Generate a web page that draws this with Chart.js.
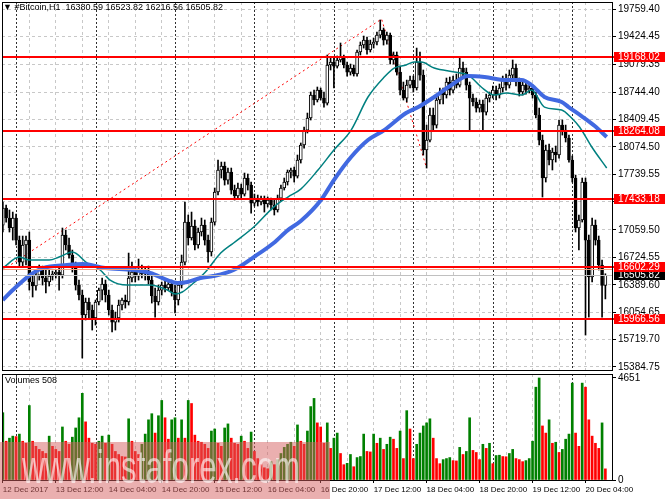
<!DOCTYPE html>
<html><head><meta charset="utf-8">
<script src="https://cdn.jsdelivr.net/npm/chart.js@4.4.0/dist/chart.umd.min.js"></script>
<style>
html,body{margin:0;padding:0;background:#fff;width:665px;height:499px;overflow:hidden;}
#wrap{position:relative;width:665px;height:499px;}
#pc{position:absolute;left:0;top:0;}
#vc{position:absolute;left:0;top:372px;}
.txt{position:absolute;font-family:"Liberation Sans",Arial,sans-serif;font-size:9px;color:#000;white-space:pre;line-height:11px;}
#wm{position:absolute;left:0;top:442px;width:330px;height:57px;background:rgba(214,96,96,0.5);overflow:hidden;}
#wmt{position:absolute;left:22px;top:2px;font-family:"Liberation Sans",Arial,sans-serif;font-size:46px;line-height:46px;color:rgba(255,255,255,0.6);white-space:pre;transform:scaleX(0.68);transform-origin:0 0;}
</style></head>
<body><div id="wrap">
<canvas id="pc" width="665" height="372"></canvas>
<canvas id="vc" width="665" height="127"></canvas>
<div class="txt" style="left:3px;top:2px;">▼ #Bitcoin,H1  16380.59 16523.82 16216.56 16505.82</div>
<div class="txt" style="left:5px;top:375px;">Volumes 508</div>
<div id="wm"><div id="wmt">www.instaforex.com</div></div>
</div>
<script>
// ---- data (hourly bars, 12 Dec 2017 20:00 .. 20 Dec 2017 10:00) ----
const openP = [
17119,17327,17205,17083,17205,16936,16667,16875,16936,16423,
16374,16508,16570,16472,16423,16496,16521,16545,16508,16997,
16875,16753,16594,16386,16264,16020,16179,16081,15983,16179,
16325,16399,16264,16081,15934,15983,16142,16203,16179,16472,
16545,16496,16570,16521,16557,16447,16252,16179,16325,16386,
16350,16399,16301,16203,16386,16667,17156,16961,17107,16875,
17034,17119,16936,16790,17156,17523,17792,17840,17669,17767,
17547,17474,17572,17498,17694,17608,17388,17449,17401,17437,
17376,17425,17364,17303,17449,17572,17645,17767,17792,17718,
17914,18097,18280,18427,18708,18647,18769,18671,18610,19075,
19111,19062,19136,19172,19075,18989,19038,18965,19234,19319,
19380,19258,19331,19356,19441,19502,19380,19441,19136,19197,
18989,18769,18671,18830,18891,18794,19111,18952,18036,18158,
18464,18341,18647,18745,18708,18867,18769,18891,18830,19038,
18989,18830,18671,18623,18549,18598,18500,18671,18708,18769,
18708,18794,18891,18830,18952,19038,18867,18745,18830,18769,
18794,18708,18464,18158,17694,18036,17914,18012,17975,18341,
18280,18183,17914,17694,17083,17181,17645,16936,16484,17119,
16936,16631,16380.59];
const highP = [
17401,17364,17303,17278,17254,16985,16985,16985,17034,16508,
16570,16631,16618,16570,16570,16557,16570,16594,17083,17058,
16961,16814,16667,16447,16325,16227,16227,16142,16203,16350,
16472,16447,16325,16142,16056,16203,16227,16264,16777,16667,
16594,16704,16631,16594,16618,16496,16350,16386,16423,16435,
16447,16447,16386,16423,16753,17401,17242,17278,17181,17083,
17205,17181,16997,17205,17572,17914,17889,17889,17816,17816,
17608,17633,17620,17755,17743,17645,17498,17486,17474,17474,
17462,17449,17425,17486,17608,17694,17792,17816,17828,17975,
18122,18317,18488,18745,18769,18806,18794,18745,19197,19160,
19160,19185,19344,19197,19111,19087,19075,19258,19356,19429,
19417,19380,19405,19478,19625,19527,19478,19466,19234,19234,
19062,18867,18891,18940,18940,19282,19234,19014,18341,18549,
18549,18696,18794,18794,18916,18928,18940,18965,19160,19111,
19038,18867,18720,18671,18647,18647,18720,18745,18818,18818,
18843,18940,18965,19014,19136,19087,18916,18867,18867,18843,
18830,18745,18549,18219,18097,18109,18060,18085,18403,18403,
18341,18219,17963,17730,17242,17694,17694,16997,17205,17181,
16985,16692,16523.82];
const lowP = [
17034,17156,17034,16936,16875,16618,16618,16631,16325,16240,
16325,16447,16386,16289,16374,16447,16472,16325,16472,16814,
16716,16545,16325,16203,15494,15959,15983,15836,15897,16142,
16203,16179,16020,15812,15836,15934,16081,16105,16142,16423,
16423,16447,16472,16447,16399,16166,15995,16142,16264,16301,
16325,16252,16044,16142,16350,16631,16875,16936,16814,16838,
16985,16875,16667,16741,17119,17486,17694,17608,17620,17498,
17425,17437,17449,17474,17547,17266,17352,17352,17364,17278,
17339,17303,17242,17278,17413,17547,17608,17694,17645,17694,
17877,18060,18244,18403,18586,18623,18647,18561,18586,19014,
18794,19038,19111,19038,18940,18952,18940,18940,19197,19282,
19209,19234,19282,19319,19405,19319,19331,19087,19087,18952,
18708,18647,18623,18794,18745,18769,18891,17975,17816,18134,
18280,18305,18598,18598,18671,18708,18733,18794,18806,18940,
18769,18280,18574,18500,18500,18280,18464,18623,18671,18647,
18671,18745,18769,18794,18916,18818,18696,18708,18720,18733,
18671,18427,18097,17462,17645,17853,17792,17889,17938,18219,
18134,17889,17645,17034,16814,17156,15775,15995,16423,16875,
16570,15995,16216.56];
const closeP = [
17327,17205,17083,17205,16936,16667,16875,16936,16423,16374,
16508,16570,16472,16423,16496,16521,16545,16508,16997,16875,
16753,16594,16386,16264,16020,16179,16081,15983,16179,16325,
16399,16264,16081,15934,15983,16142,16203,16179,16472,16545,
16496,16570,16521,16557,16447,16252,16179,16325,16386,16350,
16399,16301,16203,16386,16667,17156,16961,17107,16875,17034,
17119,16936,16790,17156,17523,17792,17840,17669,17767,17547,
17474,17572,17498,17694,17608,17388,17449,17401,17437,17376,
17425,17364,17303,17449,17572,17645,17767,17792,17718,17914,
18097,18280,18427,18708,18647,18769,18671,18610,19075,19111,
19062,19136,19172,19075,18989,19038,18965,19234,19319,19380,
19258,19331,19356,19441,19502,19380,19441,19136,19197,18989,
18769,18671,18830,18891,18794,19111,18952,18036,18158,18464,
18341,18647,18745,18708,18867,18769,18891,18830,19038,18989,
18830,18671,18623,18549,18598,18500,18671,18708,18769,18708,
18794,18891,18830,18952,19038,18867,18745,18830,18769,18794,
18708,18464,18158,17694,18036,17914,18012,17975,18341,18280,
18183,17914,17694,17083,17181,17645,16936,16484,17119,16936,
16631,16380.59,16505.82];
const volumes = [
3069,1767,1907,2000,1980,2093,1767,1674,3395,1767,
1535,1395,1302,1209,2000,1535,1395,1302,2418,1767,
1628,1953,2372,2837,3953,2651,1907,1674,1628,1767,
2000,1674,2046,1628,1302,1163,1070,1050,2790,1767,
1302,1163,1628,2093,2744,3023,2139,2930,3627,2837,
1860,2744,2837,1907,2744,1907,3627,3488,2046,1767,
1721,1628,1442,2232,2325,1674,1535,2372,2558,1907,
1674,1628,2000,1767,1442,2186,1302,977,698,558,
512,837,698,930,1209,1488,1628,1721,1535,2511,
1767,1628,2232,3348,3720,2604,2418,1674,2604,1442,
1907,2139,1209,698,760,1163,605,1023,1070,2093,
1302,1280,2093,1674,1907,1395,1628,1953,1860,1442,
2232,977,3162,2325,977,1628,2139,2465,2604,2790,
1907,977,744,930,977,1023,884,870,1488,1163,
1302,2837,1349,1256,930,1628,1442,1674,744,1116,
1130,1070,1060,1209,1395,977,930,837,884,977,
1767,4232,4651,2465,2139,2744,1674,1721,1256,1395,
1860,2093,4418,2139,1535,4418,4232,2744,2000,1674,
1442,2604,508];
// moving averages (bar index, price)
const maFastIdx = [0,5,8,14,17,21,25.5,29.4,32.4,37.6,44.5,49.7,52.1,54.2,57.6,61.2,65.8,69.7,75.8,81.8,86.1,90,95.2,100,105.2,110.3,115.2,118.2,121.8,124.2,126.4,130.3,136.4,140.6,144.5,148.5,152.1,156.7,159.7,163.6,168.8,171.8,174.2,177.9,182.4];
const maFastVal = [16594,16728,16692,16692,16728,16790,16655,16570,16447,16386,16386,16325,16276,16301,16411,16545,16777,16900,17095,17339,17462,17559,17792,18036,18280,18684,18928,19038,19075,19111,19111,19038,18989,18952,18806,18708,18733,18708,18769,18561,18525,18427,18317,18073,17816];
const maSlowIdx = [0,3,8.2,12.1,19.4,24.2,30.9,39.4,44.5,49.7,52.7,55.8,59.7,63.6,69.7,75.8,81.8,86.1,90,96.1,100,105.2,110.3,115.2,121.8,125.5,130.3,135.5,140.6,145.5,152.1,156.7,159.7,163.6,168.8,170.9,174.8,178.8,182.4];
const maSlowVal = [16203,16325,16508,16594,16631,16643,16594,16570,16533,16447,16411,16423,16472,16496,16570,16728,16900,17058,17168,17425,17669,17950,18158,18280,18488,18561,18684,18830,18940,18928,18891,18891,18830,18684,18623,18561,18451,18329,18195];
const trendIdx = [0, 114.4, 128];
const trendVal = [16570, 19637, 17816];
const levels = [19168.02, 18264.08, 17433.18, 16602.29, 15966.56];
const bidPrice = 16505.82;
const askPrice = 16585;
const priceTicks = [19759.40,19424.45,19079.35,18744.40,18409.45,18074.50,17739.55,17404.60,17059.50,16724.55,16389.60,16054.65,15719.70,15384.75];
const volTicks = [0, 4651];
const xLabels = ['12 Dec 2017','13 Dec 12:00','14 Dec 04:00','14 Dec 20:00','15 Dec 12:00','16 Dec 04:00','16 Dec 20:00','17 Dec 12:00','18 Dec 04:00','18 Dec 20:00','19 Dec 12:00','20 Dec 04:00'];
const xLabelIdx = [0,16,32,48,64,80,96,112,128,144,160,176];
const gridIdx = [0,8,16,24,32,40,48,56,64,72,80,88,96,104,112,120,128,136,144,152,160,168,176,184];
const daySeparators = [4,28,52,76,100,124,148,172];

// ---- chart ----
Chart.defaults.font.family = '"Liberation Sans", Arial, sans-serif';
Chart.defaults.font.size = 10;
Chart.defaults.color = '#000';
const YFONT = {family:'"Liberation Sans", Arial, sans-serif', size:10};
const XFONT = {family:'"Liberation Sans", Arial, sans-serif', size:8};
const N = closeP.length;
const idx = Array.from({length:N}, (_, i) => i);
const labelMap = {};
xLabelIdx.forEach((v,k) => { labelMap[v] = xLabels[k]; });
const XMIN = -0.25, XMAX = 184;

function drawSeparators(chart) {
  const {ctx, chartArea:a, scales:{x}} = chart;
  ctx.save();
  ctx.strokeStyle = '#303030'; ctx.lineWidth = 1; ctx.setLineDash([2,2]);
  daySeparators.forEach(d => {
    const px = Math.round(x.getPixelForValue(d)) + 0.5;
    ctx.beginPath(); ctx.moveTo(px, a.top); ctx.lineTo(px, a.bottom); ctx.stroke();
  });
  ctx.restore();
}
function drawFrame(chart) {
  const {ctx, chartArea:a} = chart;
  ctx.save(); ctx.strokeStyle = '#000'; ctx.lineWidth = 1;
  ctx.strokeRect(Math.floor(a.left)+0.5, Math.floor(a.top)+0.5, Math.round(a.right-a.left), Math.round(a.bottom-a.top));
  ctx.restore();
}
function tag(ctx, y, bg, text, x0) {
  const yy = Math.round(y);
  ctx.fillStyle = bg; ctx.fillRect(x0, yy-5, 51, 10);
  ctx.fillStyle = '#fff'; ctx.font = '10px "Liberation Sans", Arial, sans-serif';
  ctx.textAlign = 'left'; ctx.textBaseline = 'middle';
  ctx.fillText(text, x0+4, yy+0.5);
}
const pricePlugin = {
  id: 'priceOverlay',
  beforeDatasetsDraw(chart) { drawSeparators(chart); },
  afterDatasetsDraw(chart) {
    const {ctx, chartArea:a, scales:{y}} = chart;
    ctx.save();
    let py = Math.round(y.getPixelForValue(bidPrice)) + 0.5;
    ctx.strokeStyle = '#c0c0c0'; ctx.lineWidth = 1;
    ctx.beginPath(); ctx.moveTo(a.left, py); ctx.lineTo(a.right, py); ctx.stroke();
    py = Math.round(y.getPixelForValue(askPrice)) + 0.5;
    ctx.strokeStyle = '#f4a080';
    ctx.beginPath(); ctx.moveTo(a.left, py); ctx.lineTo(a.right, py); ctx.stroke();
    ctx.strokeStyle = '#ff0000'; ctx.lineWidth = 2;
    levels.forEach(v => {
      const ly = Math.round(y.getPixelForValue(v));
      ctx.beginPath(); ctx.moveTo(a.left, ly); ctx.lineTo(a.right + 3, ly); ctx.stroke();
    });
    ctx.restore();
  },
  afterDraw(chart) {
    drawFrame(chart);
    const {ctx, chartArea:a, scales:{y}} = chart;
    ctx.save();
    tag(ctx, y.getPixelForValue(bidPrice), '#000000', bidPrice.toFixed(2), a.right + 2);
    levels.forEach(v => tag(ctx, y.getPixelForValue(v), '#ff0000', v.toFixed(2), a.right + 2));
    ctx.restore();
  }
};
const volPlugin = {
  id: 'volOverlay',
  beforeDatasetsDraw(chart) { drawSeparators(chart); },
  afterDraw(chart) { drawFrame(chart); }
};

new Chart(document.getElementById('pc'), {
  type: 'bar',
  data: { datasets: [
    { type:'line', data: maSlowIdx.map((v,k)=>({x:v, y:maSlowVal[k]})), borderColor:'#4169e1', borderWidth:4, pointRadius:0, cubicInterpolationMode:'monotone', order:0 },
    { type:'line', data: maFastIdx.map((v,k)=>({x:v, y:maFastVal[k]})), borderColor:'#008080', borderWidth:1.5, pointRadius:0, cubicInterpolationMode:'monotone', order:1 },
    { type:'bar', data: idx.map(i=>({x:i, y:[openP[i], closeP[i]]})), backgroundColor: idx.map(i => closeP[i] > openP[i] ? '#ffffff' : '#000000'), borderColor:'#000', borderWidth:1, borderSkipped:false, barThickness:3, minBarLength:1, grouped:false, order:2 },
    { type:'bar', data: idx.map(i=>({x:i, y:[lowP[i], highP[i]]})), backgroundColor:'#000', borderWidth:0, barThickness:1, grouped:false, order:3 },
    { type:'line', data: trendIdx.map((v,k)=>({x:v, y:trendVal[k]})), borderColor:'#ff0000', borderWidth:1, borderDash:[2,3], pointRadius:0, tension:0, order:4 }
  ]},
  options: {
    responsive:false, animation:false, events:[],
    layout:{ padding:{ left:2, top:2, right:0, bottom:2 } },
    plugins:{ legend:{display:false}, tooltip:{enabled:false} },
    scales:{
      x:{ type:'linear', min:XMIN, max:XMAX, offset:false,
          grid:{ offset:false, color:'#c8c8c8', lineWidth:1, drawTicks:false },
          border:{ display:false, dash:[3,3] },
          ticks:{ display:false },
          afterBuildTicks: s => { s.ticks = gridIdx.map(v=>({value:v})); },
          afterFit: s => { s.height = 0; s.paddingLeft = 0; s.paddingRight = 0; } },
      y:{ type:'linear', position:'right', min:15348, max:19845,
          grid:{ color:'#c8c8c8', lineWidth:1, drawTicks:true, tickLength:4, tickColor:'#000', tickBorderDash:[] },
          border:{ display:false, dash:[3,3] },
          ticks:{ color:'#000', font:YFONT, padding:2, callback: v => Number(v).toFixed(2) },
          afterBuildTicks: s => { s.ticks = priceTicks.map(v=>({value:v})); },
          afterFit: s => { s.width = 53; s.paddingTop = 0; s.paddingBottom = 0; } }
    }
  },
  plugins:[pricePlugin]
});

new Chart(document.getElementById('vc'), {
  type: 'bar',
  data: { datasets: [
    { data: idx.map(i=>({x:i, y:volumes[i]})), backgroundColor: idx.map(i => (i === 0 || volumes[i] > volumes[i-1]) ? '#008000' : '#ff0000'), borderWidth:0, barThickness:2, grouped:false }
  ]},
  options: {
    responsive:false, animation:false, events:[],
    layout:{ padding:{ left:2, top:2, right:0, bottom:0 } },
    plugins:{ legend:{display:false}, tooltip:{enabled:false} },
    scales:{
      x:{ type:'linear', min:XMIN, max:XMAX, offset:false,
          grid:{ offset:false, color:'#c8c8c8', lineWidth:1, drawTicks:true, tickLength:3,
                 tickColor: c => (c.tick && labelMap[c.tick.value] !== undefined) ? '#000' : 'rgba(0,0,0,0)', tickBorderDash:[] },
          border:{ display:false, dash:[3,3] },
          ticks:{ autoSkip:false, maxRotation:0, minRotation:0, align:'start', padding:2, color:'#000', font:XFONT,
                  callback: v => (labelMap[v] !== undefined ? labelMap[v] : '') },
          afterBuildTicks: s => { s.ticks = gridIdx.map(v=>({value:v})); },
          afterFit: s => { s.height = 19; s.paddingLeft = 0; s.paddingRight = 0; } },
      y:{ type:'linear', position:'right', min:0, max:4833,
          grid:{ drawOnChartArea:false, drawTicks:true, tickLength:4, tickColor:'#000' },
          border:{ display:false },
          ticks:{ color:'#000', font:YFONT, padding:2, callback: v => String(v) },
          afterBuildTicks: s => { s.ticks = volTicks.map(v=>({value:v})); },
          afterFit: s => { s.width = 53; s.paddingTop = 0; s.paddingBottom = 0; } }
    }
  },
  plugins:[volPlugin]
});
</script>
</body></html>
